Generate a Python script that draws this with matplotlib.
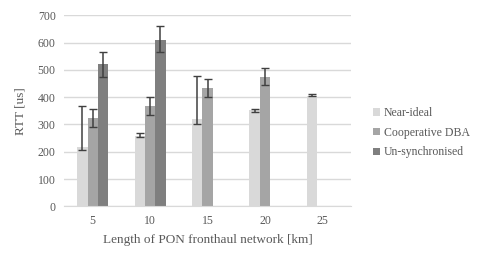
import matplotlib
matplotlib.use("Agg")
import matplotlib.pyplot as plt
import numpy as np

plt.rcParams["font.family"] = ["Liberation Serif", "DejaVu Serif"]

# data
lengths = ["5", "10", "15", "20", "25"]
near_ideal = [218, 259, 321, 354, 406]
near_ideal_up = [148, 8, 156, 4, 4]
near_ideal_down = [12, 4, 20, 8, 3]
coop_dba = [325, 368, 434, 475]
coop_dba_err = [33, 33, 33, 31]
unsync = [520, 610]
unsync_up = [45, 52]
unsync_down = [46, 44]

fig = plt.figure(figsize=(4.81, 2.6), dpi=100)
ax = fig.add_axes([0.133, 0.2065, 0.597, 0.7345])

x = np.arange(len(lengths))
w = 0.18
ecol = "#404040"
ekw = dict(ecolor=ecol, elinewidth=1.1, capsize=2.6, capthick=1.0)

ax.bar(x - w, near_ideal, w, color="#D9D9D9", label="Near-ideal",
       yerr=[near_ideal_down, near_ideal_up], error_kw=ekw, zorder=2)
ax.bar(x[:len(coop_dba)], coop_dba, w, color="#A5A5A5", label="Cooperative DBA",
       yerr=coop_dba_err, error_kw=ekw, zorder=2)
ax.bar(x[:len(unsync)] + w, unsync, w, color="#7F7F7F", label="Un-synchronised",
       yerr=[unsync_down, unsync_up], error_kw=ekw, zorder=2)

ax.set_xlim(-0.5, len(lengths) - 0.5)
ax.set_ylim(0, 700)
ax.set_yticks(range(0, 701, 100))
ax.set_xticks(x)
ax.set_xticklabels(lengths)
ax.grid(axis="y", color="#D9D9D9", linewidth=1, zorder=0)
for s in ["top", "right", "left"]:
    ax.spines[s].set_visible(False)
ax.spines["bottom"].set_color("#D9D9D9")
ax.tick_params(length=0, labelsize=8.5, colors="#595959", pad=6)
ax.set_xlabel("Length of PON fronthaul network [km]", fontsize=9.5, color="#595959", labelpad=5)
ax.set_ylabel("RTT [us]", fontsize=9.5, color="#595959", labelpad=8)

ax.legend(loc="center left", bbox_to_anchor=(1.04, 0.385), frameon=False,
          fontsize=8.5, handlelength=0.6, handleheight=0.6, handletextpad=0.3,
          labelspacing=0.65, labelcolor="#595959")

fig.savefig("out.png", dpi=100)
